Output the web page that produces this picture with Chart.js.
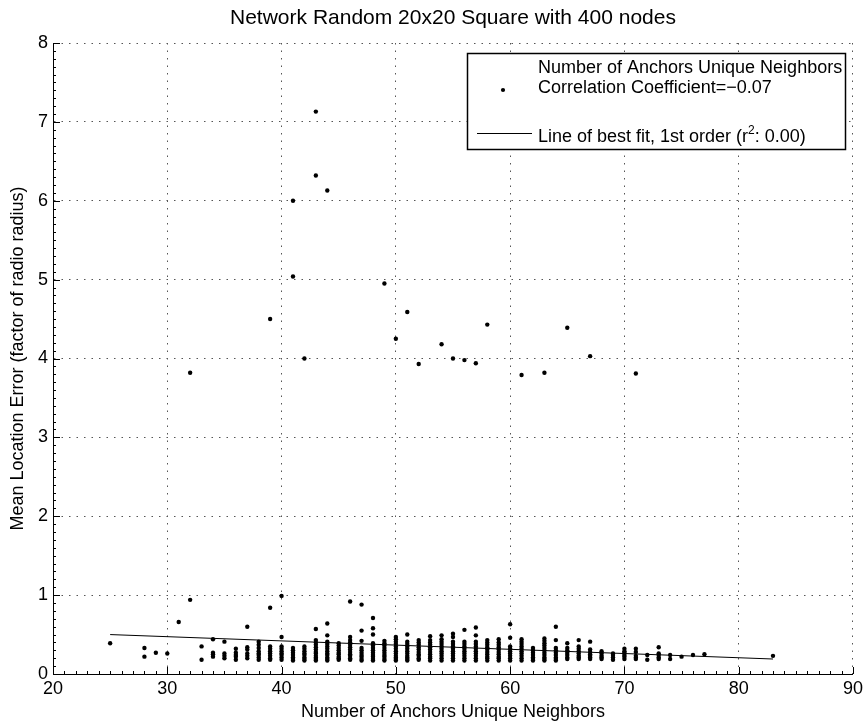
<!DOCTYPE html>
<html>
<head>
<meta charset="utf-8">
<title>Network Random 20x20 Square with 400 nodes</title>
<script src="https://cdn.jsdelivr.net/npm/chart.js@4.4.1/dist/chart.umd.min.js"></script>
<style>
    html, body { margin: 0; padding: 0; background: #fff; }
    #wrap { width: 867px; height: 725px; }
</style>
</head>
<body>
<div id="wrap"><canvas id="scatter-chart" width="867" height="725"></canvas></div>
<script>
// number of unique anchor neighbours (x) and the location errors seen at each count
const neighborCounts = [25, 28, 29, 30, 31, 32, 33, 34, 35, 36, 37, 38, 39, 40, 41, 42, 43, 44, 45, 46,
    47, 48, 49, 50, 51, 52, 53, 54, 55, 56, 57, 58, 59, 60, 61, 62, 63, 64, 65, 66,
    67, 68, 69, 70, 71, 72, 73, 74, 75, 76, 77, 83];

const errorsByCount = [
    [0.39],
    [0.33, 0.22],
    [0.27],
    [0.26],
    [0.66],
    [3.82, 0.94],
    [0.35, 0.18],
    [0.44, 0.27, 0.25, 0.22],
    [0.41, 0.26, 0.23, 0.20],
    [0.32, 0.27, 0.24, 0.22, 0.18],
    [0.60, 0.34, 0.31, 0.26, 0.23, 0.20],
    [0.41, 0.37, 0.33, 0.29, 0.26, 0.24, 0.21, 0.18],
    [4.50, 0.84, 0.35, 0.32, 0.29, 0.26, 0.23, 0.20, 0.18],
    [0.99, 0.47, 0.35, 0.32, 0.29, 0.26, 0.24, 0.21, 0.18],
    [6.00, 5.04, 0.33, 0.30, 0.27, 0.24, 0.21, 0.19, 0.17],
    [4.00, 0.35, 0.32, 0.29, 0.26, 0.24, 0.21, 0.19, 0.17],
    [7.13, 6.32, 0.57, 0.43, 0.40, 0.37, 0.34, 0.31, 0.28, 0.26, 0.23, 0.21, 0.19, 0.17],
    [6.13, 0.64, 0.49, 0.41, 0.38, 0.35, 0.32, 0.29, 0.26, 0.24, 0.21, 0.19, 0.17],
    [0.39, 0.36, 0.33, 0.30, 0.27, 0.25, 0.22, 0.20, 0.18],
    [0.92, 0.47, 0.43, 0.40, 0.37, 0.34, 0.31, 0.28, 0.25, 0.23, 0.20, 0.18],
    [0.88, 0.55, 0.42, 0.33, 0.30, 0.27, 0.24, 0.22, 0.19, 0.17],
    [0.71, 0.58, 0.50, 0.39, 0.36, 0.33, 0.30, 0.27, 0.24, 0.22, 0.19, 0.17],
    [4.95, 0.42, 0.39, 0.36, 0.33, 0.30, 0.27, 0.24, 0.22, 0.19, 0.17],
    [4.25, 0.47, 0.44, 0.41, 0.38, 0.35, 0.32, 0.29, 0.26, 0.23, 0.21, 0.19, 0.17],
    [4.59, 0.50, 0.41, 0.38, 0.35, 0.32, 0.29, 0.26, 0.23, 0.21, 0.19, 0.17],
    [3.93, 0.43, 0.40, 0.37, 0.34, 0.31, 0.28, 0.25, 0.23, 0.20, 0.18],
    [0.48, 0.43, 0.40, 0.37, 0.34, 0.31, 0.28, 0.25, 0.22, 0.20, 0.17],
    [4.18, 0.49, 0.44, 0.41, 0.38, 0.35, 0.32, 0.29, 0.26, 0.23, 0.20, 0.17],
    [4.00, 0.51, 0.47, 0.41, 0.38, 0.35, 0.32, 0.29, 0.26, 0.23, 0.20, 0.17],
    [3.98, 0.56, 0.41, 0.38, 0.35, 0.32, 0.29, 0.26, 0.23, 0.20, 0.17],
    [3.94, 0.59, 0.49, 0.41, 0.38, 0.35, 0.32, 0.29, 0.26, 0.23, 0.20, 0.17],
    [4.43, 0.43, 0.40, 0.37, 0.34, 0.31, 0.28, 0.25, 0.22, 0.20, 0.17],
    [0.44, 0.40, 0.37, 0.34, 0.31, 0.28, 0.25, 0.22, 0.20, 0.17],
    [0.63, 0.46, 0.35, 0.32, 0.29, 0.26, 0.23, 0.20, 0.17],
    [3.79, 0.44, 0.41, 0.38, 0.35, 0.32, 0.29, 0.26, 0.23, 0.20, 0.17],
    [0.33, 0.30, 0.27, 0.24, 0.21, 0.19, 0.17],
    [3.82, 0.45, 0.42, 0.39, 0.36, 0.33, 0.30, 0.27, 0.24, 0.21, 0.19, 0.17],
    [0.60, 0.43, 0.33, 0.30, 0.27, 0.24, 0.21, 0.19, 0.17],
    [4.39, 0.39, 0.33, 0.30, 0.27, 0.24, 0.21, 0.19],
    [0.43, 0.35, 0.32, 0.29, 0.26, 0.23, 0.21, 0.19],
    [4.03, 0.41, 0.31, 0.28, 0.25, 0.23, 0.21, 0.19],
    [0.29, 0.26, 0.23, 0.21, 0.19],
    [0.26, 0.24, 0.21, 0.18],
    [0.32, 0.29, 0.27, 0.24, 0.22, 0.19],
    [3.81, 0.32, 0.28, 0.23, 0.21, 0.19],
    [0.24, 0.18],
    [0.34, 0.26, 0.24, 0.21, 0.19],
    [0.24, 0.19],
    [0.22],
    [0.24],
    [0.25],
    [0.23]
];

// first order fit, end points
const fitX = [25, 83];
const fitY = [0.50, 0.19];

const xTicks = [20, 30, 40, 50, 60, 70, 80, 90];
const yTicks = [0, 1, 2, 3, 4, 5, 6, 7, 8];

const chartTitle = 'Network Random 20x20 Square with 400 nodes';
const scatterLegend = ['Number of Anchors Unique Neighbors', 'Correlation Coefficient=\u22120.07'];
const fitLegend = ['Line of best fit, 1st order (r', '2', ': 0.00)'];

const FONT = "'Liberation Sans', Arial, Helvetica, sans-serif";

function buildPoints() {
    const pts = [];
    neighborCounts.forEach((n, i) => {
        errorsByCount[i].forEach(e => pts.push({ x: n, y: e }));
    });
    return pts;
}

// title centred over the axes rather than the whole canvas
const axesTitle = {
    id: 'axesTitle',
    afterDraw(chart) {
        const { ctx, chartArea } = chart;
        ctx.save();
        ctx.fillStyle = '#000';
        ctx.font = '21px ' + FONT;
        ctx.textAlign = 'center';
        ctx.textBaseline = 'middle';
        ctx.fillText(chartTitle, (chartArea.left + chartArea.right) / 2, 18);
        ctx.restore();
    }
};

// inward major/minor ticks on the left and bottom axes
const tickMarks = {
    id: 'tickMarks',
    afterDraw(chart) {
        const { ctx, chartArea, scales: { x, y } } = chart;
        ctx.save();
        ctx.strokeStyle = '#000';
        ctx.lineWidth = 1;
        ctx.beginPath();
        for (let v = 20; v <= 90; v++) {
            const px = Math.round(x.getPixelForValue(v)) + 0.5;
            const len = v % 10 === 0 ? 7 : 3;
            ctx.moveTo(px, chartArea.bottom);
            ctx.lineTo(px, chartArea.bottom - len);
        }
        for (let k = 0; k <= 80; k++) {
            const py = Math.round(y.getPixelForValue(k / 10)) + 0.5;
            const len = k % 10 === 0 ? 7 : 3;
            ctx.moveTo(chartArea.left, py);
            ctx.lineTo(chartArea.left + len, py);
        }
        ctx.stroke();
        ctx.restore();
    }
};

// boxed legend in the top right corner
const boxLegend = {
    id: 'boxLegend',
    afterDraw(chart) {
        const ctx = chart.ctx;
        const left = 467, top = 53, right = 845, bottom = 149;
        const textX = 538;
        ctx.save();
        ctx.fillStyle = '#fff';
        ctx.fillRect(left, top, right - left, bottom - top);
        ctx.strokeStyle = '#000';
        ctx.lineWidth = 1.5;
        ctx.strokeRect(left + 0.5, top + 0.5, right - left, bottom - top);

        ctx.fillStyle = '#000';
        ctx.font = '18px ' + FONT;
        ctx.textBaseline = 'alphabetic';
        ctx.textAlign = 'left';
        ctx.fillText(scatterLegend[0], textX, 73);
        ctx.fillText(scatterLegend[1], textX, 93);

        ctx.beginPath();
        ctx.arc(503, 90, 2.1, 0, Math.PI * 2);
        ctx.fill();

        ctx.beginPath();
        ctx.moveTo(477, 133.5);
        ctx.lineTo(532, 133.5);
        ctx.lineWidth = 1;
        ctx.stroke();

        let tx = textX;
        ctx.fillText(fitLegend[0], tx, 142);
        tx += ctx.measureText(fitLegend[0]).width;
        ctx.font = '12px ' + FONT;
        ctx.fillText(fitLegend[1], tx, 134);
        tx += ctx.measureText(fitLegend[1]).width;
        ctx.font = '18px ' + FONT;
        ctx.fillText(fitLegend[2], tx, 142);
        ctx.restore();
    }
};

function renderChart() {
    const ctx = document.getElementById('scatter-chart').getContext('2d');
    const gridDash = [1.5, 6];

    new Chart(ctx, {
        type: 'scatter',
        data: {
            datasets: [{
                label: scatterLegend.join(' '),
                data: buildPoints(),
                backgroundColor: '#000',
                borderColor: '#000',
                pointRadius: 2.2,
                pointBorderWidth: 0,
                order: 2
            }, {
                type: 'line',
                label: fitLegend.join(''),
                data: fitX.map((v, i) => ({ x: v, y: fitY[i] })),
                borderColor: '#000',
                borderWidth: 1,
                pointRadius: 0,
                fill: false,
                order: 1
            }]
        },
        options: {
            responsive: false,
            animation: false,
            devicePixelRatio: 1,
            layout: { padding: { left: 0, right: 14, top: 43, bottom: 0 } },
            plugins: {
                legend: { display: false },
                tooltip: { enabled: false },
                title: { display: false }
            },
            scales: {
                x: {
                    type: 'linear',
                    min: 20,
                    max: 90,
                    afterBuildTicks: scale => { scale.ticks = xTicks.map(v => ({ value: v })); },
                    afterFit: scale => { scale.height = 51; },
                    ticks: {
                        color: '#000',
                        font: { family: FONT, size: 18 },
                        padding: 4,
                        maxRotation: 0
                    },
                    grid: { color: '#555', lineWidth: 1, drawTicks: false },
                    border: { display: true, color: '#000', width: 1, dash: gridDash },
                    title: {
                        display: true,
                        text: 'Number of Anchors Unique Neighbors',
                        color: '#000',
                        font: { family: FONT, size: 18 },
                        padding: { top: 0, bottom: 2 }
                    }
                },
                y: {
                    type: 'linear',
                    min: 0,
                    max: 8,
                    afterBuildTicks: scale => { scale.ticks = yTicks.map(v => ({ value: v })); },
                    afterFit: scale => { scale.width = 53; },
                    ticks: {
                        color: '#000',
                        font: { family: FONT, size: 18 },
                        padding: 5
                    },
                    grid: { color: '#555', lineWidth: 1, drawTicks: false },
                    border: { display: true, color: '#000', width: 1, dash: gridDash },
                    title: {
                        display: true,
                        text: 'Mean Location Error (factor of radio radius)',
                        color: '#000',
                        font: { family: FONT, size: 18 },
                        padding: { top: 7, bottom: 0 }
                    }
                }
            }
        },
        plugins: [axesTitle, tickMarks, boxLegend]
    });
}

document.addEventListener('DOMContentLoaded', () => {
    renderChart();
});
</script>
</body>
</html>
